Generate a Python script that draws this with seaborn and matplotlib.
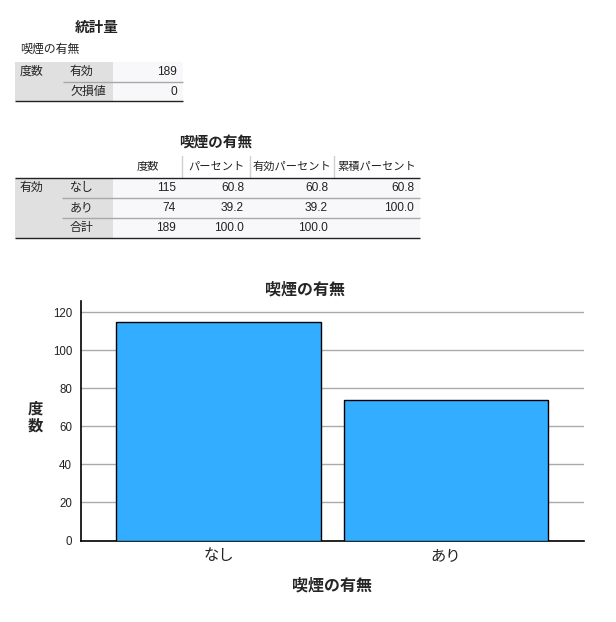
import matplotlib
matplotlib.use("Agg")
import matplotlib.pyplot as plt
import pandas as pd
import seaborn as sns
from matplotlib.patches import Rectangle

# --- data ---
var_label = "喫煙の有無"
stats_title = "統計量"
stats_rows = ["有効", "欠損値"]
stats_values = [189, 0]

freq_cols = ["度数", "パーセント", "有効パーセント", "累積パーセント"]
freq_rows = ["なし", "あり", "合計"]
freq_counts = [115, 74, 189]
freq_pct = ["60.8", "39.2", "100.0"]
freq_valid_pct = ["60.8", "39.2", "100.0"]
freq_cum_pct = ["60.8", "100.0", ""]

categories = ["なし", "あり"]
counts = [115, 74]
yticks = [0, 20, 40, 60, 80, 100, 120]

sns.set_theme(style="white")
# Arial-like digits, CJK glyphs fall through to Noto
plt.rcParams["font.family"] = ["Liberation Sans", "Noto Sans CJK JP", "DejaVu Sans"]

W, H = 616, 622
fig = plt.figure(figsize=(W / 100, H / 100), dpi=100)

GRAY = "#e0e0e0"
CELL = "#f8f8fa"
LINE = "#a8a8a8"

# overlay in pixel coordinates for the pivot tables
tab = fig.add_axes([0, 0, 1, 1])
tab.set_xlim(0, W)
tab.set_ylim(H, 0)
tab.axis("off")


def txt(x, y, s, ha="left", size=8.6, weight="normal"):
    tab.text(x, y, s, ha=ha, va="center", fontsize=size, fontweight=weight, color="#222222")


def box(x0, y0, x1, y1, color):
    tab.add_patch(Rectangle((x0, y0), x1 - x0, y1 - y0, facecolor=color, edgecolor="none"))


def hline(y, x0, x1, color, lw=1.0):
    tab.plot([x0, x1], [y, y], color=color, lw=lw, solid_capstyle="butt")


# table 1: statistics
txt(97, 28, stats_title, ha="center", size=10.5, weight="bold")
txt(20, 50, var_label)
box(15, 62, 113, 101, GRAY)
box(113, 62, 183, 101, CELL)
txt(20, 72, "度数")
for i, (lab, val) in enumerate(zip(stats_rows, stats_values)):
    y = 72 + 20 * i
    txt(70, y, lab)
    txt(177, y, str(val), ha="right")
hline(82, 63, 183, LINE)
hline(101, 15, 183, "#222222")

# table 2: frequencies
col_edges = [113, 182, 250, 334, 420]
txt(216, 143, var_label, ha="center", size=10.5, weight="bold")
for j, name in enumerate(freq_cols):
    txt((col_edges[j] + col_edges[j + 1]) / 2, 167, name, ha="center", size=8.1)
for xe in col_edges[1:-1]:
    tab.plot([xe, xe], [156, 178], color="#d0d0d0", lw=1)
box(15, 178, 113, 238, GRAY)
box(113, 178, 420, 238, CELL)
hline(178, 15, 420, "#222222")
txt(20, 188, "有効")
columns = [freq_counts, freq_pct, freq_valid_pct, freq_cum_pct]
for i, lab in enumerate(freq_rows):
    y = 188 + 20 * i
    txt(70, y, lab)
    for j, col in enumerate(columns):
        txt(col_edges[j + 1] - 6, y, str(col[i]), ha="right")
for y in (198, 218):
    hline(y, 62, 420, LINE)
hline(238, 15, 420, "#222222")

# bar chart
ax = fig.add_axes([80.5 / W, 1 - 540.5 / H, (584 - 80.5) / W, (540.5 - 301) / H])
df = pd.DataFrame({"cat": categories, "n": counts})
sns.barplot(data=df, x="cat", y="n", color="#32adff", saturation=1,
            width=0.9, edgecolor="black", linewidth=1, ax=ax, zorder=3)
ax.set_xlim(-0.607, 1.607)
ax.set_ylim(0, 126)
ax.set_yticks(yticks)
ax.yaxis.grid(True, color="#aaaaaa", lw=1)
ax.set_axisbelow(True)
for s in ("top", "right"):
    ax.spines[s].set_visible(False)
for s in ("left", "bottom"):
    ax.spines[s].set_color("black")
    ax.spines[s].set_linewidth(1.2)
ax.tick_params(axis="y", length=0, pad=6, labelsize=8.3, labelcolor="#222222")
ax.tick_params(axis="x", length=0, pad=6, labelsize=11, labelcolor="#222222")
ax.set_xlabel(var_label, fontsize=11.5, fontweight="bold", labelpad=11)
ax.set_ylabel("")
fig.text(35 / W, 1 - 418 / H, "度\n数", ha="center", va="center",
         fontsize=11, fontweight="bold", linespacing=1.2)
fig.text(305 / W, 1 - 290 / H, var_label, ha="center", va="center",
         fontsize=11.5, fontweight="bold")

fig.savefig("out.png", dpi=100, facecolor="white")
